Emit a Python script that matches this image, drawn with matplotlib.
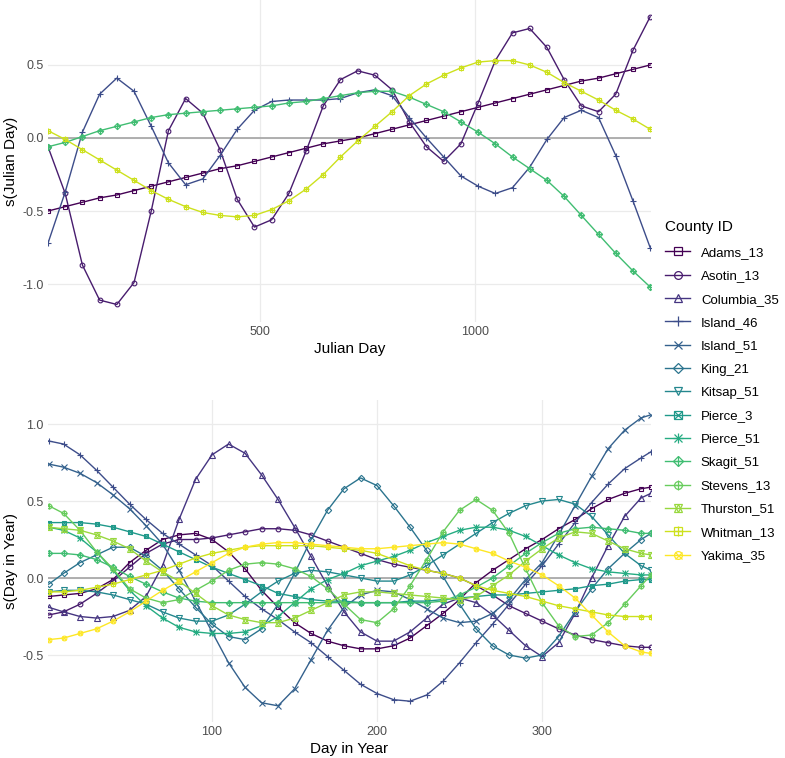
import numpy as np
import matplotlib
matplotlib.use("Agg")
import matplotlib.pyplot as plt
from matplotlib.lines import Line2D
from matplotlib.legend_handler import HandlerTuple

plt.rcParams['font.family'] = ['Liberation Sans', 'DejaVu Sans']

counties = ["Adams_13", "Asotin_13", "Columbia_35", "Island_46", "Island_51",
            "King_21", "Kitsap_51", "Pierce_3", "Pierce_51", "Skagit_51",
            "Stevens_13", "Thurston_51", "Whitman_13", "Yakima_35"]

# ---- top panel: s(Julian Day) ----
julian_day = list(range(7, 1408, 40))

adams_jd = [-0.50, -0.47, -0.44, -0.41, -0.39, -0.36, -0.33, -0.30, -0.27, -0.24,
            -0.21, -0.19, -0.16, -0.13, -0.10, -0.07, -0.04, -0.02, 0.00, 0.03,
            0.06, 0.09, 0.12, 0.15, 0.18, 0.21, 0.24, 0.27, 0.30, 0.33,
            0.36, 0.39, 0.41, 0.44, 0.47, 0.50]
asotin_jd = [-0.06, -0.38, -0.87, -1.11, -1.14, -0.99, -0.50, 0.05, 0.27, 0.17,
             -0.08, -0.42, -0.61, -0.56, -0.38, -0.09, 0.22, 0.40, 0.46, 0.43,
             0.33, 0.11, -0.06, -0.16, -0.04, 0.24, 0.53, 0.72, 0.75, 0.62,
             0.40, 0.22, 0.18, 0.30, 0.60, 0.83]
island46_jd = [-0.72, -0.37, 0.04, 0.30, 0.41, 0.32, 0.08, -0.17, -0.32, -0.28,
               -0.12, 0.06, 0.19, 0.25, 0.26, 0.26, 0.26, 0.27, 0.31, 0.33,
               0.29, 0.14, 0.00, -0.13, -0.26, -0.33, -0.38, -0.34, -0.20, -0.01,
               0.14, 0.19, 0.14, -0.12, -0.43, -0.75]
skagit_jd = [-0.06, -0.03, 0.01, 0.05, 0.08, 0.11, 0.14, 0.16, 0.17, 0.18,
             0.19, 0.20, 0.21, 0.22, 0.24, 0.25, 0.27, 0.29, 0.31, 0.32,
             0.32, 0.28, 0.23, 0.18, 0.11, 0.04, -0.04, -0.13, -0.21, -0.29,
             -0.40, -0.53, -0.66, -0.79, -0.91, -1.02]
whitman_jd = [0.05, -0.01, -0.08, -0.15, -0.22, -0.29, -0.36, -0.42, -0.47, -0.51,
              -0.53, -0.54, -0.53, -0.49, -0.43, -0.35, -0.25, -0.13, -0.02, 0.08,
              0.18, 0.29, 0.37, 0.43, 0.48, 0.52, 0.53, 0.53, 0.50, 0.45,
              0.38, 0.32, 0.26, 0.19, 0.13, 0.06]

# ---- bottom panel: s(Day in Year) ----
day_in_year = [1] + list(range(10, 361, 10)) + [366]

adams_doy = [-0.12, -0.11, -0.10, -0.07, -0.01, 0.10, 0.18, 0.25, 0.28, 0.29,
             0.25, 0.17, 0.06, -0.08, -0.19, -0.29, -0.36, -0.41, -0.44, -0.46,
             -0.46, -0.44, -0.39, -0.31, -0.23, -0.14, -0.03, 0.05, 0.12, 0.19,
             0.25, 0.32, 0.38, 0.45, 0.51, 0.55, 0.58, 0.59]
asotin_doy = [-0.24, -0.22, -0.17, -0.10, -0.02, 0.07, 0.16, 0.22, 0.25, 0.25,
              0.26, 0.28, 0.30, 0.32, 0.32, 0.31, 0.28, 0.24, 0.20, 0.16,
              0.12, 0.09, 0.07, 0.05, 0.03, 0.00, -0.05, -0.11, -0.18, -0.23,
              -0.28, -0.33, -0.37, -0.40, -0.42, -0.44, -0.45, -0.45]
columbia_doy = [-0.19, -0.22, -0.25, -0.26, -0.25, -0.21, -0.12, 0.08, 0.38, 0.64,
                0.80, 0.87, 0.81, 0.67, 0.51, 0.33, 0.14, -0.05, -0.22, -0.35,
                -0.41, -0.41, -0.35, -0.26, -0.17, -0.13, -0.16, -0.24, -0.34, -0.44,
                -0.51, -0.42, -0.23, 0.00, 0.21, 0.40, 0.52, 0.55]
island46_doy = [0.89, 0.87, 0.80, 0.70, 0.59, 0.48, 0.38, 0.29, 0.22, 0.15,
                0.08, -0.02, -0.12, -0.20, -0.27, -0.35, -0.42, -0.51, -0.60, -0.69,
                -0.75, -0.79, -0.80, -0.76, -0.67, -0.55, -0.42, -0.30, -0.17, -0.04,
                0.08, 0.22, 0.36, 0.49, 0.61, 0.71, 0.78, 0.82]
island51_doy = [0.74, 0.72, 0.68, 0.62, 0.54, 0.45, 0.34, 0.22, 0.05, -0.15,
                -0.35, -0.55, -0.71, -0.81, -0.83, -0.72, -0.53, -0.34, -0.19, -0.11,
                -0.08, -0.09, -0.14, -0.20, -0.26, -0.29, -0.28, -0.23, -0.14, -0.01,
                0.10, 0.28, 0.47, 0.66, 0.84, 0.96, 1.04, 1.06]
king_doy = [-0.04, 0.03, 0.10, 0.15, 0.20, 0.20, 0.14, 0.05, -0.07, -0.19,
            -0.30, -0.38, -0.40, -0.33, -0.17, 0.03, 0.25, 0.44, 0.58, 0.65,
            0.60, 0.47, 0.33, 0.18, 0.01, -0.17, -0.33, -0.44, -0.50, -0.52,
            -0.50, -0.38, -0.22, -0.07, 0.06, 0.16, 0.25, 0.29]
kitsap_doy = [-0.09, -0.08, -0.08, -0.09, -0.11, -0.14, -0.17, -0.22, -0.26, -0.28,
              -0.28, -0.24, -0.17, -0.09, -0.02, 0.03, 0.05, 0.04, 0.02, 0.00,
              -0.02, -0.02, 0.02, 0.08, 0.15, 0.22, 0.29, 0.36, 0.42, 0.47,
              0.50, 0.51, 0.48, 0.40, 0.28, 0.16, 0.08, 0.05]
pierce3_doy = [0.36, 0.36, 0.36, 0.35, 0.33, 0.30, 0.27, 0.22, 0.17, 0.12,
               0.07, 0.03, -0.01, -0.05, -0.10, -0.12, -0.14, -0.15, -0.15, -0.16,
               -0.16, -0.16, -0.15, -0.15, -0.14, -0.13, -0.12, -0.11, -0.11, -0.10,
               -0.09, -0.08, -0.07, -0.05, -0.04, -0.02, -0.01, -0.01]
pierce51_doy = [0.33, 0.31, 0.26, 0.17, 0.05, -0.08, -0.18, -0.26, -0.32, -0.35,
                -0.36, -0.36, -0.35, -0.31, -0.25, -0.16, -0.07, -0.01, 0.03, 0.08,
                0.11, 0.14, 0.18, 0.23, 0.27, 0.31, 0.33, 0.33, 0.31, 0.27,
                0.21, 0.15, 0.10, 0.06, 0.04, 0.03, 0.02, 0.02]
skagit_doy = [0.16, 0.16, 0.15, 0.12, 0.07, 0.01, -0.04, -0.09, -0.13, -0.15,
              -0.16, -0.16, -0.16, -0.16, -0.16, -0.16, -0.16, -0.16, -0.16, -0.16,
              -0.16, -0.16, -0.16, -0.16, -0.15, -0.11, -0.06, 0.00, 0.08, 0.16,
              0.23, 0.29, 0.32, 0.33, 0.32, 0.31, 0.29, 0.29]
stevens_doy = [0.47, 0.42, 0.31, 0.17, 0.06, -0.07, -0.13, -0.16, -0.14, -0.08,
               -0.02, 0.05, 0.09, 0.10, 0.09, 0.06, 0.01, -0.07, -0.17, -0.27,
               -0.29, -0.20, -0.05, 0.12, 0.30, 0.44, 0.51, 0.44, 0.29, 0.06,
               -0.16, -0.31, -0.38, -0.37, -0.29, -0.17, -0.05, 0.02]
thurston_doy = [0.33, 0.32, 0.31, 0.28, 0.24, 0.19, 0.11, 0.04, -0.02, -0.10,
                -0.18, -0.24, -0.27, -0.29, -0.29, -0.26, -0.21, -0.16, -0.11, -0.09,
                -0.09, -0.10, -0.11, -0.12, -0.13, -0.14, -0.12, -0.05, 0.02, 0.11,
                0.19, 0.26, 0.30, 0.29, 0.24, 0.19, 0.16, 0.15]
whitman_doy = [-0.09, -0.09, -0.08, -0.06, -0.04, -0.01, 0.02, 0.05, 0.09, 0.13,
               0.16, 0.18, 0.20, 0.21, 0.21, 0.21, 0.21, 0.20, 0.19, 0.18,
               0.16, 0.12, 0.08, 0.05, 0.03, 0.00, -0.05, -0.08, -0.10, -0.12,
               -0.15, -0.18, -0.20, -0.22, -0.24, -0.25, -0.25, -0.25]
yakima_doy = [-0.40, -0.39, -0.36, -0.33, -0.28, -0.22, -0.15, -0.08, -0.02, 0.04,
              0.10, 0.16, 0.20, 0.22, 0.23, 0.23, 0.22, 0.21, 0.20, 0.19,
              0.19, 0.20, 0.21, 0.22, 0.23, 0.22, 0.19, 0.16, 0.11, 0.07,
              0.02, -0.05, -0.13, -0.24, -0.35, -0.44, -0.48, -0.49]

top_series = {"Adams_13": adams_jd, "Asotin_13": asotin_jd, "Island_46": island46_jd,
              "Skagit_51": skagit_jd, "Whitman_13": whitman_jd}
bottom_series = {"Adams_13": adams_doy, "Asotin_13": asotin_doy, "Columbia_35": columbia_doy,
                 "Island_46": island46_doy, "Island_51": island51_doy, "King_21": king_doy,
                 "Kitsap_51": kitsap_doy, "Pierce_3": pierce3_doy, "Pierce_51": pierce51_doy,
                 "Skagit_51": skagit_doy, "Stevens_13": stevens_doy, "Thurston_51": thurston_doy,
                 "Whitman_13": whitman_doy, "Yakima_35": yakima_doy}

# ggplot shapes 0..13 built from overlaid matplotlib markers
shapes = {
    "Adams_13": [("s", 1.0)],
    "Asotin_13": [("o", 1.0)],
    "Columbia_35": [("^", 1.15)],
    "Island_46": [("+", 1.4)],
    "Island_51": [("x", 1.1)],
    "King_21": [("D", 0.95)],
    "Kitsap_51": [("v", 1.15)],
    "Pierce_3": [("s", 1.0), ("x", 1.0)],
    "Pierce_51": [("+", 1.4), ("x", 1.1)],
    "Skagit_51": [("D", 0.95), ("+", 1.3)],
    "Stevens_13": [("o", 1.0), ("+", 1.2)],
    "Thurston_51": [("^", 1.15), ("v", 1.15)],
    "Whitman_13": [("s", 1.0), ("+", 1.2)],
    "Yakima_35": [("o", 1.0), ("x", 0.9)],
}
colors = dict(zip(counties, plt.cm.viridis(np.linspace(0, 1, len(counties)))))

MS = 3.4
LW = 1.0


def draw(ax, x, y, name):
    c = colors[name]
    ax.plot(x, y, color=c, lw=LW, zorder=3)
    for m, s in shapes[name]:
        ax.plot(x, y, ls="none", marker=m, ms=MS * s, mfc="none", mec=c, mew=0.8, zorder=3)


def style(ax, xlabel, ylabel, xticks, yticks, xlim, ylim):
    ax.set_xlim(*xlim)
    ax.set_ylim(*ylim)
    ax.set_xticks(xticks)
    ax.set_yticks(yticks)
    ax.set_yticklabels(["%.1f" % v for v in yticks])
    ax.grid(True, color="#EBEBEB", lw=0.9, zorder=0)
    ax.set_axisbelow(True)
    for s in ax.spines.values():
        s.set_visible(False)
    ax.tick_params(length=0, labelsize=9, labelcolor="#4D4D4D", pad=3)
    ax.axhline(0, color="#A3A3A3", lw=1.2, zorder=2)
    ax.set_xlabel(xlabel, fontsize=11, labelpad=3)
    ax.set_ylabel(ylabel, fontsize=11, labelpad=3)


fig = plt.figure(figsize=(7.85, 7.58), dpi=100)
ax1 = fig.add_axes([48 / 785, 1 - 322 / 758, 603 / 785, 322 / 758])
ax2 = fig.add_axes([48 / 785, 1 - 722 / 758, 603 / 785, 322 / 758])

for name in counties:
    if name in top_series:
        draw(ax1, julian_day, top_series[name], name)
    draw(ax2, day_in_year, bottom_series[name], name)

style(ax1, "Julian Day", "s(Julian Day)", [500, 1000], [-1.0, -0.5, 0.0, 0.5],
      (7, 1409), (-1.26, 0.945))
style(ax2, "Day in Year", "s(Day in Year)", [100, 200, 300], [-0.5, 0.0, 0.5, 1.0],
      (0.6, 366), (-0.935, 1.156))

handles = []
for name in counties:
    c = colors[name]
    parts = [Line2D([], [], color=c, lw=LW)]
    for m, s in shapes[name]:
        parts.append(Line2D([], [], ls="none", marker=m, ms=4.0 * 1.4 * s, mfc="none",
                            mec=c, mew=0.9))
    handles.append(tuple(parts))

leg = fig.legend(handles, counties, title="County ID", loc="upper left",
                 bbox_to_anchor=(660 / 785, 1 - 215 / 758), frameon=False,
                 fontsize=9.5, title_fontsize=11, handlelength=1.9, handletextpad=0.8,
                 labelspacing=0.84, borderaxespad=0,
                 handler_map={tuple: HandlerTuple(ndivide=1)})
leg._legend_box.align = "left"
leg._legend_box.sep = 9

fig.savefig("out.png", dpi=100)
